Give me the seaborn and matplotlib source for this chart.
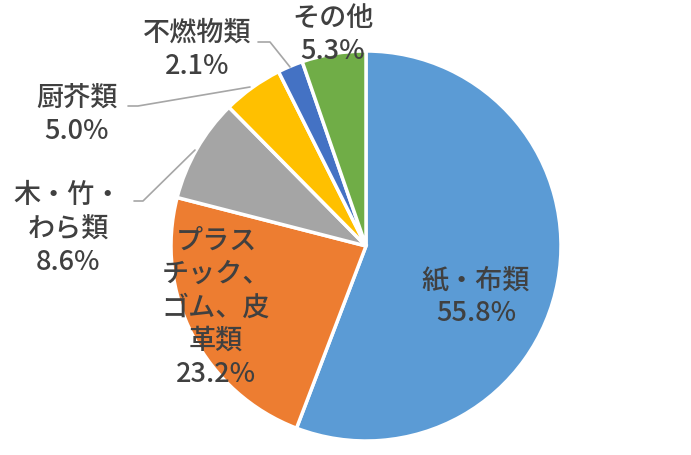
import matplotlib
matplotlib.use("Agg")
import matplotlib.pyplot as plt
import seaborn as sns

categories = ["紙・布類", "プラスチック、ゴム、皮革類", "木・竹・わら類", "厨芥類", "不燃物類", "その他"]
values = [55.8, 23.2, 8.6, 5.0, 2.1, 5.3]
label_texts = ["紙・布類", "プラス\nチック、\nゴム、皮\n革類", "木・竹・\nわら類", "厨芥類", "不燃物類", "その他"]
colors = ["#5B9BD5", "#ED7D31", "#A5A5A5", "#FFC000", "#4472C4", "#70AD47"]

sns.set_theme(style="white")
plt.rcParams['font.family'] = ['Noto Sans CJK JP', 'DejaVu Sans']

W, H = 691, 455
fig = plt.figure(figsize=(W / 100, H / 100), dpi=100)
ax = fig.add_axes([0, 0, 1, 1])

cx, cy, r = 366, 246, 195
ax.pie(values, colors=colors, startangle=90, counterclock=False,
       center=(cx, H - cy), radius=r, frame=True,
       wedgeprops=dict(edgecolor="white", linewidth=2.5))
ax.set_xlim(0, W)
ax.set_ylim(0, H)
ax.set_aspect("equal")
ax.axis("off")

tc = "#404040"
# label positions (pixel coords, y from top), centre of text block
pos = [(476, 297), (216, 308), (68, 229), (77, 115), (197, 50), (333, 35)]
for lab, v, (x, y) in zip(label_texts, values, pos):
    ax.text(x, H - y, f"{lab}\n{v:.1f}%", ha="center", va="center",
            fontsize=19.5, color=tc, linespacing=1.3, fontweight="medium")

# leader lines
lc = "#A6A6A6"
leaders = [
    [(134, 201), (143, 201), (195, 150)],
    [(128, 106), (138, 106), (250, 87)],
    [(258, 42), (270, 42), (290, 67)],
]
for pts in leaders:
    xs = [p[0] for p in pts]
    ys = [H - p[1] for p in pts]
    ax.plot(xs, ys, color=lc, linewidth=1.2)

fig.savefig("out.png", dpi=100, facecolor="white")
